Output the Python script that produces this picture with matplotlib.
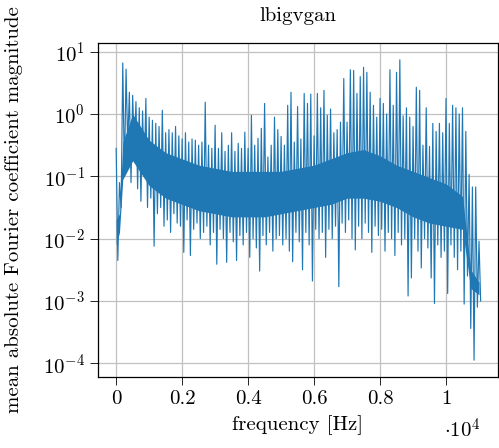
import numpy as np
import matplotlib
matplotlib.use('Agg')
import matplotlib.pyplot as plt
from matplotlib.ticker import LogFormatterMathtext, NullLocator

plt.rcParams['font.family'] = 'serif'
plt.rcParams['font.serif'] = ['cmr10']
plt.rcParams['mathtext.fontset'] = 'cm'
plt.rcParams['axes.unicode_minus'] = False

# spectrum, log10 of magnitude
# upper points every 100 Hz (0 .. 11000)
hi_freq = np.arange(0, 11001, 100)
hi_log = [-0.55, -1.1, 0.82, 0.72, 0.35, 0.3, 0.2, 0.1, 0.05, 0.25,
          -0.05, -0.1, -0.15, -0.2, 0.06, -0.3, -0.25, -0.3, -0.2, -0.35,
          -0.4, -0.3, -0.45, -0.4, -0.42, -0.5, -0.45, 0.19, -0.5, -0.55,
          -0.18, -0.55, -0.3, -0.6, -0.5, -0.3, -0.6, -0.47, -0.55, -0.29,
          -0.55, -0.02, -0.5, -0.39, -0.23, 0.17, -0.69, -0.5, -0.05, -0.25,
          -0.36, -0.5, 0.14, 0.35, -0.45, 0.12, -0.4, 0.33, 0.17, 0.32,
          -0.35, 0.33, 0.1, 0.38, -0.02, 0.08, -0.3, -0.25, -0.13, 0.57,
          -0.13, 0.71, 0.7, 0.33, 0.6, 0.75, 0.67, 0.35, 0.14, -0.05,
          0.25, 0.17, 0.0, 0.71, 0.14, 0.67, 0.87, -0.03, 0.1, -0.05,
          -0.2, 0.43, 0.38, -0.5, 0.1, -0.52, -0.15, -0.28, -0.15, -0.3,
          0.25, -0.15, 0.14, 0.1, 0.0, 0.1, -0.28, -0.97, -1.17, -1.17,
          -2.04]
# lower points in between (50 .. 11050)
lo_freq = np.arange(50, 11051, 100)
lo_log = [-2.35, -1.5, -1.0, -0.5, -1.1, -0.6, -1.2, -1.4, -1.0, -1.5,
          -1.35, -2.12, -1.6, -1.5, -1.8, -1.7, -1.9, -1.6, -1.75, -1.8,
          -2.22, -1.7, -2.27, -1.85, -1.75, -2.0, -1.9, -1.8, -2.1, -1.9,
          -2.41, -1.85, -2.0, -2.38, -1.9, -2.05, -2.35, -1.95, -2.1, -1.9,
          -2.3, -2.0, -2.15, -2.52, -1.95, -2.1, -1.9, -2.2, -2.0, -1.95,
          -2.1, -2.0, -2.2, -2.37, -1.9, -2.05, -2.5, -1.9, -2.1, -2.68,
          -1.85, -2.0, -1.9, -2.3, -1.85, -2.0, -1.8, -2.77, -1.75, -1.9,
          -1.7, -2.0, -2.18, -1.8, -2.0, -1.75, -1.9, -2.22, -1.8, -1.95,
          -1.85, -2.2, -1.9, -2.0, -2.27, -1.9, -2.1, -2.0, -2.92, -2.63,
          -2.0, -2.2, -2.47, -2.0, -2.15, -2.63, -3.04, -2.1, -2.3, -2.2,
          -2.88, -2.1, -2.3, -2.5, -2.2, -3.05, -2.6, -3.44, -3.95, -3.1,
          -3.0]

# dense core of the band
core_freq = [0, 100, 200, 500, 1000, 1500, 2000, 2500, 3000, 3500, 4000,
             4500, 5000, 5500, 6000, 6500, 7000, 7500, 8000, 8500, 9000,
             9500, 10000, 10500, 10750, 11000]
core_top = [-1.7, -1.6, -0.45, 0.0, -0.42, -0.62, -0.72, -0.82, -0.87, -0.92, -0.92,
            -0.92, -0.92, -0.87, -0.82, -0.72, -0.62, -0.57, -0.67, -0.82, -0.92,
            -1.02, -1.12, -1.32, -2.5, -2.7]
core_bot = [-2.1, -1.9, -1.05, -0.75, -1.15, -1.35, -1.45, -1.55, -1.6, -1.65, -1.65,
            -1.65, -1.6, -1.55, -1.5, -1.45, -1.35, -1.35, -1.4, -1.5, -1.65,
            -1.75, -1.8, -1.85, -2.8, -2.9]

xtick_pos = [0, 2000, 4000, 6000, 8000, 10000]
xtick_labels = ['0', '0.2', '0.4', '0.6', '0.8', '1']
ytick_pos = [1e-4, 1e-3, 1e-2, 1e-1, 1e0, 1e1]

freq = np.empty(len(hi_freq) + len(lo_freq))
freq[0::2] = hi_freq
freq[1::2] = lo_freq
mag_log = np.empty_like(freq)
mag_log[0::2] = hi_log
mag_log[1::2] = lo_log
mag = 10.0 ** mag_log

col = '#1f77b4'
fig = plt.figure(figsize=(4.99, 4.48), dpi=100)
ax = fig.add_axes([98/499, 71/448, 400/499, 334/448])

ax.fill_between(core_freq, 10.0 ** np.array(core_bot), 10.0 ** np.array(core_top),
                color=col, lw=0, zorder=2)
ax.plot(freq, mag, color=col, lw=0.85, zorder=3)

ax.set_yscale('log')
ax.set_xlim(-551, 11576)
ax.set_ylim(10 ** -4.22, 10 ** 1.14)
ax.set_xticks(xtick_pos)
ax.set_xticklabels(xtick_labels)
ax.set_yticks(ytick_pos)
ax.yaxis.set_major_formatter(LogFormatterMathtext())
ax.yaxis.set_minor_locator(NullLocator())
ax.tick_params(direction='out', length=5.5, width=0.6, labelsize=15, pad=4)
ax.grid(True, color='#c0c0c0', lw=0.9, zorder=0)
ax.set_axisbelow(True)
for s in ax.spines.values():
    s.set_linewidth(0.9)

fig.text(298/499, 1 - 16/448, 'lbigvgan', ha='center', va='center', fontsize=15)
fig.text(298/499, 1 - 425/448, 'frequency [Hz]', ha='center', va='center', fontsize=15)
fig.text(462/499, 1 - 430/448, r'$\cdot 10^4$', ha='center', va='center', fontsize=15)
fig.text(14/499, 1 - 210/448, 'mean absolute Fourier coefficient magnitude',
         ha='center', va='center', rotation=90, fontsize=15)

fig.savefig('out.png', dpi=100)
